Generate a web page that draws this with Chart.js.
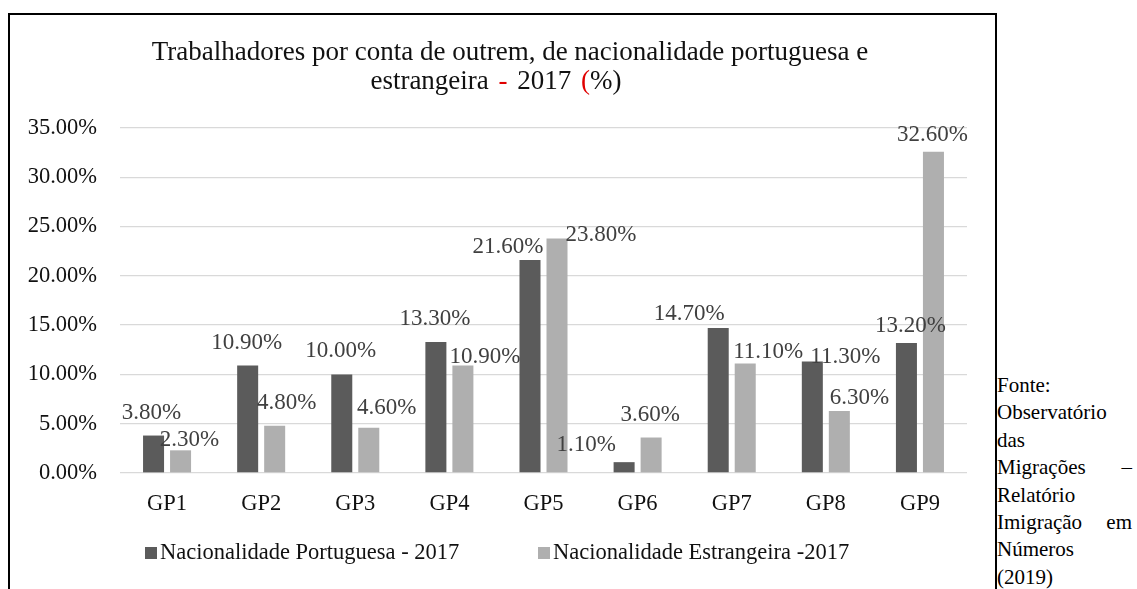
<!DOCTYPE html>
<html>
<head>
<meta charset="utf-8">
<script src="https://cdn.jsdelivr.net/npm/chart.js@4"></script>
<style>
  body { margin: 0; background: #fff; font-family: "Liberation Serif", "Times New Roman", serif; }
  .frame { position: absolute; left: 8px; top: 13px; width: 985px; height: 600px; border: 2px solid #000; border-bottom: none; }
  .wrap { position: absolute; left: 10px; top: 15px; width: 983px; height: 574px; }
  .title { position: absolute; width: 1000px; text-align: center; font-size: 27px; line-height: 29px; color: #111; white-space: nowrap; }
  .title .red { color: #e00000; }
  .legend { position: absolute; top: 539px; font-size: 22.5px; color: #111; white-space: nowrap; }
  .legend i { display: inline-block; width: 12px; height: 12px; margin-right: 3px; }
  .fonte { position: absolute; left: 997px; top: 372px; width: 135px; font-size: 21px; line-height: 27.4px; text-align: justify; text-align-last: justify; color: #000; }
</style>
</head>
<body>
<div class="frame"></div>
<div class="wrap"><canvas id="myChart"></canvas></div>
<div class="title" style="left:10px; top:37px">Trabalhadores por conta de outrem, de nacionalidade portuguesa e</div>
<div class="title" style="left:-4px; top:66px; word-spacing:3px">estrangeira <span class="red">-</span> 2017 <span class="red">(</span>%)</div>
<div class="legend" style="left:145px"><i style="background:#5b5b5b"></i>Nacionalidade Portuguesa - 2017</div>
<div class="legend" style="left:538px"><i style="background:#afafaf"></i>Nacionalidade Estrangeira -2017</div>
<div class="fonte">Fonte:<br>Observatório<br>das<br>Migrações –<br>Relatório<br>Imigração em<br>Números<br>(2019)</div>
<script>
const categories = ["GP1", "GP2", "GP3", "GP4", "GP5", "GP6", "GP7", "GP8", "GP9"];
const portuguesa = [3.8, 10.9, 10.0, 13.3, 21.6, 1.1, 14.7, 11.3, 13.2];
const estrangeira = [2.3, 4.8, 4.6, 10.9, 23.8, 3.6, 11.1, 6.3, 32.6];
const yTicks = [0, 5, 10, 15, 20, 25, 30, 35];

// where each value label sits relative to the top of its bar (dx, dy)
const nudgePt = [[-2, -17], [-1, -17], [-1, -17], [-1, -17], [-22, -7], [-38, -11], [-29, -8], [33, 1], [4, -11]];
const nudgeEs = [[9, -4], [12, -17], [18, -14], [22, -3], [44, 3], [-1, -17], [23, -6], [20, -7], [-1, -11]];

Chart.defaults.font.family = '"Liberation Serif", "Times New Roman", serif';

const valueLabels = {
    id: 'valueLabels',
    afterDatasetsDraw(chart) {
        let ctx = chart.ctx;
        ctx.save();
        ctx.font = '23px "Liberation Serif", "Times New Roman", serif';
        ctx.fillStyle = '#404040';
        ctx.textAlign = 'center';
        ctx.textBaseline = 'alphabetic';
        chart.data.datasets.forEach((ds, i) => {
            let nudge = i == 0 ? nudgePt : nudgeEs;
            chart.getDatasetMeta(i).data.forEach((bar, j) => {
                ctx.fillText(ds.data[j].toFixed(2) + '%', bar.x + nudge[j][0], bar.y + nudge[j][1]);
            });
        });
        ctx.restore();
    }
};

const config = {
    type: 'bar',
    data: {
        labels: categories,
        datasets: [
            { label: 'Nacionalidade Portuguesa - 2017', data: portuguesa, backgroundColor: '#5b5b5b' },
            { label: 'Nacionalidade Estrangeira -2017', data: estrangeira, backgroundColor: '#afafaf' }
        ]
    },
    options: {
        responsive: true,
        maintainAspectRatio: false,
        animation: false,
        datasets: { bar: { categoryPercentage: 0.574, barPercentage: 0.778 } },
        layout: { padding: { left: 0, right: 26, top: 113, bottom: 0 } },
        plugins: {
            legend: { display: false },
            title: { display: false },
            tooltip: { enabled: false }
        },
        scales: {
            x: {
                grid: { display: false },
                border: { display: false },
                ticks: { color: '#111', font: { size: 22.5 }, padding: 10 },
                afterFit: (s) => { s.height = 116; }
            },
            y: {
                min: 0,
                max: 35,
                afterBuildTicks: (s) => { s.ticks = yTicks.map(v => ({ value: v })); },
                grid: { color: '#d9d9d9', lineWidth: 1.3, drawTicks: false },
                border: { display: false },
                ticks: {
                    color: '#111',
                    font: { size: 22.5 },
                    padding: 23,
                    callback: (v) => v.toFixed(2) + '%'
                },
                afterFit: (s) => { s.width = 110; }
            }
        }
    },
    plugins: [valueLabels]
};

const myChart = new Chart(document.getElementById('myChart'), config);
</script>
</body>
</html>
